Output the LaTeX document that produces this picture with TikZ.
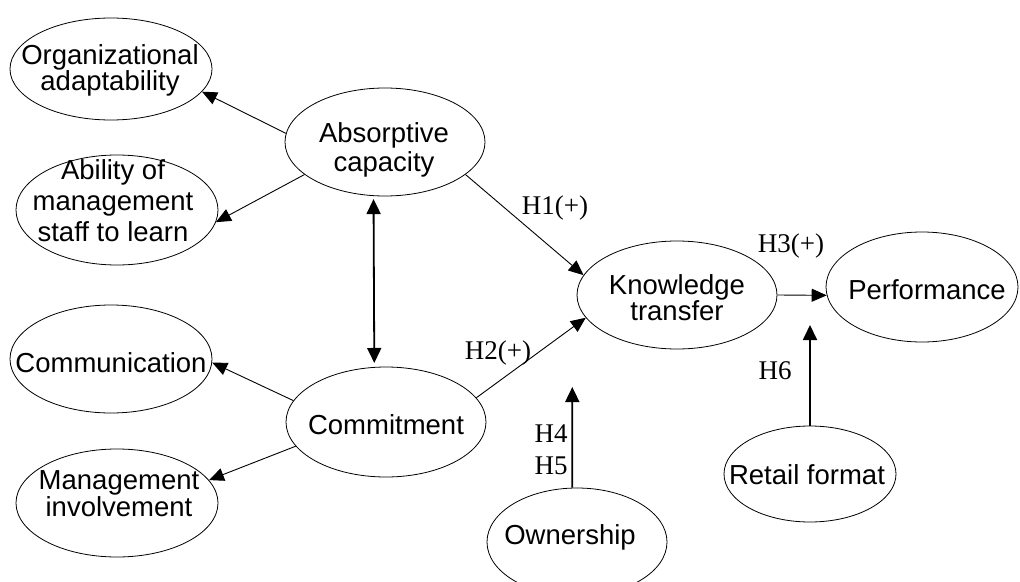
\documentclass[tikz,border=0pt]{standalone}
\usepackage{fontspec}
\setmainfont{Liberation Sans}
\newfontfamily\hypfont{Liberation Serif}
\usetikzlibrary{arrows.meta,shapes.geometric}
\begin{document}
\begin{tikzpicture}[x=1pt,y=-1pt,
  ell/.style={draw, ellipse, inner sep=0pt, line width=0.8pt},
  lbl/.style={font=\fontsize{27.5}{25}\selectfont, align=center, inner sep=0pt},
  hyp/.style={font=\hypfont\fontsize{27}{32}\selectfont, align=center, inner sep=0pt},
  arr/.style={-{Triangle[length=15pt,width=13pt]}, line width=0.9pt},
  thk/.style={-{Triangle[length=15pt,width=14pt]}, line width=1.8pt},
  dbl/.style={{Triangle[length=15pt,width=14pt]}-{Triangle[length=15pt,width=14pt]}, line width=1.8pt},
]
\useasboundingbox (0,0) rectangle (1020,581);
\clip (0,0) rectangle (1020,581);

% ellipses
\node[ell, minimum width=202pt, minimum height=102pt] (org) at (111,69) {};
\node[ell, minimum width=200pt, minimum height=108pt] (abs) at (385,142) {};
\node[ell, minimum width=202pt, minimum height=110pt] (abl) at (117,210) {};
\node[ell, minimum width=202pt, minimum height=108pt] (cmm) at (111,359) {};
\node[ell, minimum width=200pt, minimum height=110pt] (com) at (386,422) {};
\node[ell, minimum width=202pt, minimum height=108pt] (mgt) at (117,503) {};
\node[ell, minimum width=200pt, minimum height=108pt] (kt) at (677,295) {};
\node[ell, minimum width=192pt, minimum height=110pt] (perf) at (922,287) {};
\node[ell, minimum width=172pt, minimum height=96pt] (ret) at (810,474) {};
\node[ell, minimum width=180pt, minimum height=108pt] (own) at (577,542) {};

% texts
\node[lbl] (org-t) at (110,70.5) {Organizational\\adaptability};
\node[lbl, font=\fontsize{27.5}{29.5}\selectfont] (abs-t) at (384,150) {Absorptive\\capacity};
\node[lbl, font=\fontsize{27.5}{31}\selectfont] (abl-t) at (113,201) {Ability of\\management\\staff to learn};
\node[lbl] (cmm-t) at (111,363) {Communication};
\node[lbl] (com-t) at (386,425) {Commitment};
\node[lbl, font=\fontsize{27.5}{23}\selectfont] (mgt-t) at (119,493.5) {Management\\involvement};
\node[lbl] (kt-t) at (677,297.5) {Knowledge\\transfer};
\node[lbl] (perf-t) at (927,290) {Performance};
\node[lbl] (ret-t) at (807,475) {Retail format};
\node[lbl] (own-t) at (570,537) {Ownership};

% connectors
\draw[arr] (abs.175) -- (org.-14);
\draw[arr] (abs.202) -- (abl.-7);
\draw[dbl, shorten <=3pt, shorten >=4pt] (abs.258) -- (com.102);
\draw[arr] (com.167) -- (cmm.-2);
\draw[arr] (com.195) -- (mgt.14);
\draw[arr] (abs.-22) -- (kt.168);
\draw[arr] (com.15) -- (kt.194);
\draw[arr] (kt.east) -- (perf.185);
\coordinate (h6e) at (810,325);
\draw[thk] (ret.north) -- (h6e);
\coordinate (h45e) at (572.3,387);
\draw[thk] (own.95) -- (h45e);

% hypothesis labels
\node[hyp] (h1) at (555,208) {H1(+)};
\node[hyp] (h2) at (498,353) {H2(+)};
\node[hyp] (h3) at (791,246) {H3(+)};
\node[hyp] (h6) at (775,371) {H6};
\node[hyp] (h45) at (551,450) {H4\\H5};
\end{tikzpicture}
\end{document}
